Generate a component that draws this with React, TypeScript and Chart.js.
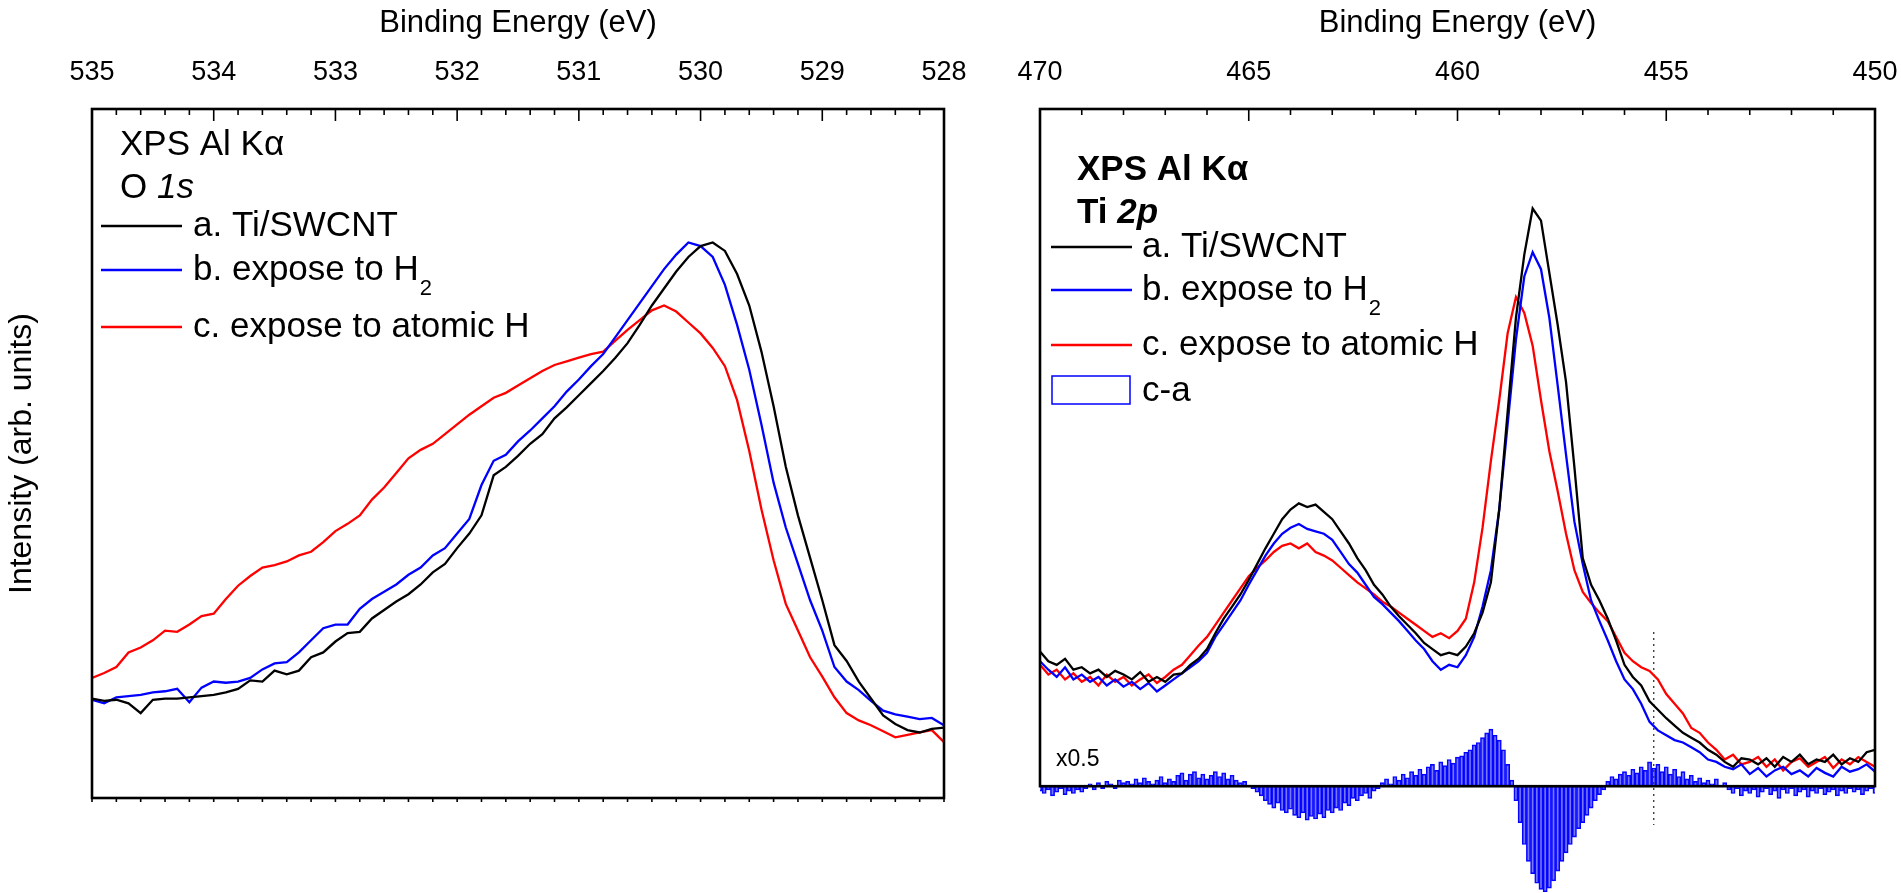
import React, { useEffect, useRef } from "react";
import { Chart, registerables } from "chart.js";

Chart.register(...registerables);

const FONT = '"Liberation Sans", Arial, Helvetica, sans-serif';

// ---------- O 1s panel (535 -> 528 eV, 0.1 eV steps) ----------
const O1S_START = 535.0;
const O1S_STEP = 0.1;
const o1sTiSWCNT = [82, 80, 81, 78, 70, 81, 82, 82, 83, 84, 85, 87, 90, 97, 96, 105, 102, 105, 116, 120, 129, 136, 137, 148, 155, 162, 168, 176, 186, 193, 206, 218, 233, 266, 273, 282, 292, 300, 313, 322, 332, 342, 352, 363, 375, 390, 406, 420, 434, 446, 455, 458, 451, 432, 406, 368, 323, 273, 233, 198, 163, 126, 113, 96, 82, 68, 61, 56, 54, 57, 58];
const o1sH2 = [81, 78, 83, 84, 85, 87, 88, 90, 79, 91, 96, 95, 96, 99, 106, 111, 112, 120, 130, 140, 143, 143, 156, 164, 170, 176, 184, 190, 200, 206, 218, 230, 258, 278, 283, 294, 303, 313, 323, 335, 345, 356, 366, 380, 394, 408, 422, 436, 448, 458, 455, 446, 423, 390, 353, 308, 260, 223, 193, 163, 138, 108, 96, 89, 80, 72, 69, 67, 65, 66, 60];
const o1sAtomicH = [99, 103, 108, 120, 124, 130, 138, 137, 143, 150, 152, 164, 175, 183, 190, 192, 195, 200, 203, 211, 220, 226, 233, 246, 256, 268, 280, 287, 292, 300, 308, 316, 323, 330, 334, 340, 346, 352, 357, 360, 363, 366, 368, 377, 386, 394, 402, 406, 401, 392, 383, 371, 356, 328, 286, 238, 196, 160, 138, 116, 100, 83, 70, 64, 60, 55, 50, 52, 54, 56, 46];
const O1S_AXIS = { min: 528, max: 535, step: 1, minor: 0.2 };
const O1S_Y = { min: 0, max: 568 };

// ---------- Ti 2p panel (470 -> 450 eV, 0.2 eV steps) ----------
const TI_START = 470.0;
const TI_STEP = 0.2;
const tiTiSWCNT = [111, 103, 100, 105, 96, 98, 93, 96, 90, 95, 92, 88, 94, 86, 90, 86, 92, 93, 100, 105, 113, 126, 138, 148, 158, 170, 183, 196, 208, 220, 228, 233, 230, 232, 226, 220, 210, 200, 188, 178, 166, 158, 148, 140, 133, 126, 118, 113, 108, 110, 108, 115, 126, 143, 168, 228, 308, 386, 438, 476, 466, 423, 380, 333, 263, 188, 166, 153, 138, 120, 100, 90, 83, 70, 63, 56, 50, 44, 40, 36, 30, 26, 20, 16, 23, 22, 18, 23, 16, 24, 20, 26, 18, 22, 20, 26, 18, 23, 20, 28, 30];
const tiH2 = [103, 96, 90, 98, 88, 92, 86, 90, 83, 88, 82, 86, 80, 85, 78, 83, 88, 93, 98, 103, 110, 123, 133, 143, 153, 166, 178, 190, 200, 208, 213, 216, 212, 210, 208, 203, 193, 183, 176, 166, 156, 150, 143, 136, 128, 120, 113, 103, 96, 100, 98, 108, 123, 148, 178, 228, 298, 368, 420, 440, 426, 386, 330, 273, 218, 183, 153, 136, 120, 103, 88, 80, 68, 53, 46, 42, 38, 36, 32, 28, 22, 20, 16, 14, 18, 10, 15, 8, 13, 16, 10, 13, 8, 15, 11, 8, 16, 12, 14, 18, 12];
const tiAtomicH = [100, 92, 96, 88, 93, 86, 90, 83, 92, 86, 90, 83, 88, 92, 85, 90, 96, 100, 108, 116, 123, 133, 143, 153, 163, 173, 180, 186, 193, 198, 200, 196, 200, 193, 190, 186, 180, 174, 168, 163, 158, 152, 148, 143, 138, 133, 128, 123, 126, 122, 128, 138, 168, 213, 268, 318, 373, 403, 390, 363, 318, 276, 243, 208, 178, 160, 151, 143, 136, 123, 110, 103, 98, 95, 88, 76, 68, 60, 48, 44, 36, 30, 22, 26, 18, 20, 24, 16, 22, 13, 20, 23, 16, 20, 24, 15, 22, 18, 24, 20, 16];

// difference spectrum c-a (x0.5), 0.1 eV steps
const DIFF_START = 470.0;
const DIFF_STEP = 0.1;
const diffCminusA = [
  -4, -6, -3, -8, -5, -2, -7, -4, -6, -3, -5,
  -2, 2, -3, 3, -2, 4, 2, -2, 5, 3,
  4, 2, 6, 3, 7, 4, 2, 5, 8, 3,
  6, 4, 9, 11, 5, 10, 12, 7, 10, 6,
  9, 12, 8, 11, 6, 9, 5, 3, 4, 1,
  -2, -5, -8, -12, -15, -18, -14, -20, -22, -19,
  -24, -26, -22, -28, -25, -27, -23, -26, -20, -22,
  -18, -20, -14, -16, -10, -12, -8, -6, -10, -4,
  -2, 3, 6, 2, 8, 5, 10, 7, 12, 9,
  14, 10, 16, 18, 13, 20, 17, 22, 19, 24,
  25, 28, 30, 34, 36, 40, 44, 47, 42, 38,
  30, 18, 5, -12, -30, -48, -62, -72, -80, -85,
  -87, -84, -78, -70, -62, -55, -48, -42, -35, -30,
  -24, -18, -12, -7, -3, 4, 8, 6, 10, 12,
  9, 14, 11, 16, 13, 20, 15, 18, 12, 16,
  10, 14, 8, 12, 6, 9, 4, 7, 3, 5,
  2, 6, 1, 3, -3, -6, -2, -8, -4, -6,
  -3, -9, -5, -2, -7, -4, -10, -3, -6, -2,
  -8, -5, -3, -9, -4, -6, -2, -7, -5, -3,
  -8, -4, -6, -2, -5, -3, -7, -4, -2, -6,
];
const MARKER_X = 455.3;
const MARKER_Y = [127, -32];
const TI_AXIS = { min: 450, max: 470, step: 5, minor: 1 };
const TI_Y = { min: -88, max: 558 };

const SERIES_LABELS = ["a. Ti/SWCNT", "b. expose to H\u2082", "c. expose to atomic H"];
const DIFF_LABEL = "c-a";
const SERIES_COLORS = ["#000000", "#0000ff", "#ff0000"];
const X_TITLE = "Binding Energy (eV)";
const Y_TITLE = "Intensity (arb. units)";

function energyGrid(start: number, step: number, n: number): number[] {
  return Array.from({ length: n }, (_, i) => Math.round((start - i * step) * 100) / 100);
}
function toPoints(xs: number[], ys: number[]) {
  return ys.map((y, i) => ({ x: xs[i], y }));
}

function drawLabel(ctx: CanvasRenderingContext2D, text: string, x: number, y: number, size: number, bold = false) {
  const base = `${bold ? "bold " : ""}${size}px ${FONT}`;
  const sub = `${bold ? "bold " : ""}${Math.round(size * 0.62)}px ${FONT}`;
  const parts = text.split("\u2082");
  let cx = x;
  ctx.textBaseline = "middle";
  ctx.textAlign = "left";
  parts.forEach((p, i) => {
    ctx.font = base;
    ctx.fillText(p, cx, y);
    cx += ctx.measureText(p).width;
    if (i < parts.length - 1) {
      ctx.font = sub;
      ctx.fillText("2", cx + 1, y + size * 0.55);
      cx += ctx.measureText("2").width + 1;
    }
  });
}

function drawRuns(ctx: CanvasRenderingContext2D, runs: { t: string; f: string }[], x: number, y: number) {
  let cx = x;
  ctx.textBaseline = "middle";
  ctx.textAlign = "left";
  for (const r of runs) {
    ctx.font = r.f;
    ctx.fillText(r.t, cx, y);
    cx += ctx.measureText(r.t).width;
  }
}

function makeFramePlugin(cfg: {
  major: number;
  minor: number;
  zeroBottom: boolean;
  bottomTicks: boolean;
  annotate: (ctx: CanvasRenderingContext2D) => void;
}) {
  return {
    id: "frameAndNotes",
    afterDatasetsDraw(chart: any) {
      const { ctx, chartArea } = chart;
      const xs = chart.scales.x;
      const ys = chart.scales.y;
      const top = chartArea.top;
      const bottom = cfg.zeroBottom ? ys.getPixelForValue(0) : chartArea.bottom;
      ctx.save();
      ctx.strokeStyle = "#000";
      ctx.lineWidth = 1.6;
      const n = Math.round((xs.max - xs.min) / cfg.minor);
      for (let k = 0; k <= n; k++) {
        const v = xs.min + k * cfg.minor;
        const px = xs.getPixelForValue(v);
        const r = v / cfg.major;
        const isMajor = Math.abs(r - Math.round(r)) < 1e-6;
        ctx.beginPath();
        ctx.moveTo(px, top);
        ctx.lineTo(px, top + (isMajor ? 12 : 6));
        ctx.stroke();
        if (cfg.bottomTicks) {
          ctx.beginPath();
          ctx.moveTo(px, bottom);
          ctx.lineTo(px, bottom + 4);
          ctx.stroke();
        }
      }
      ctx.lineWidth = 2.6;
      ctx.strokeRect(chartArea.left, top, chartArea.right - chartArea.left, bottom - top);
      ctx.fillStyle = "#000";
      cfg.annotate(ctx);
      ctx.restore();
    },
  };
}

function legendLine(ctx: CanvasRenderingContext2D, x0: number, x1: number, y: number, color: string) {
  ctx.strokeStyle = color;
  ctx.lineWidth = 2.4;
  ctx.beginPath();
  ctx.moveTo(x0, y);
  ctx.lineTo(x1, y);
  ctx.stroke();
}

const TOP_AXIS_HEIGHT = 109;

function xAxisOptions(axis: { min: number; max: number; step: number }) {
  return {
    type: "linear" as const,
    position: "top" as const,
    reverse: true,
    offset: false,
    min: axis.min,
    max: axis.max,
    afterFit: (s: any) => {
      s.height = TOP_AXIS_HEIGHT;
      s.paddingLeft = 0;
      s.paddingRight = 0;
    },
    ticks: {
      stepSize: axis.step,
      color: "#000",
      font: { family: FONT, size: 27 },
      padding: 20,
      maxRotation: 0,
      autoSkip: false,
    },
    grid: { display: false, drawTicks: false },
    border: { display: false },
    title: {
      display: true,
      text: X_TITLE,
      color: "#000",
      font: { family: FONT, size: 31 },
      padding: { top: 5, bottom: 0 },
    },
  };
}

export default function App() {
  const leftRef = useRef<HTMLCanvasElement>(null);
  const rightRef = useRef<HTMLCanvasElement>(null);

  useEffect(() => {
    document.body.style.margin = "0";
    Chart.defaults.font.family = FONT;

    const eO = energyGrid(O1S_START, O1S_STEP, o1sTiSWCNT.length);
    const eTi = energyGrid(TI_START, TI_STEP, tiTiSWCNT.length);
    const eDiff = energyGrid(DIFF_START, DIFF_STEP, diffCminusA.length);

    const lineDs = (label: string, color: string, data: any[]) => ({
      type: "line" as const,
      label,
      data,
      borderColor: color,
      backgroundColor: color,
      borderWidth: 2.3,
      pointRadius: 0,
      tension: 0,
      fill: false,
      order: 1,
    });

    const left = new Chart(leftRef.current!, {
      type: "line",
      data: {
        datasets: [
          lineDs(SERIES_LABELS[0], SERIES_COLORS[0], toPoints(eO, o1sTiSWCNT)),
          lineDs(SERIES_LABELS[1], SERIES_COLORS[1], toPoints(eO, o1sH2)),
          lineDs(SERIES_LABELS[2], SERIES_COLORS[2], toPoints(eO, o1sAtomicH)),
        ],
      },
      options: {
        responsive: false,
        maintainAspectRatio: false,
        animation: false,
        layout: { padding: { left: 0, right: 56, top: 0, bottom: 95 } },
        plugins: { legend: { display: false }, tooltip: { enabled: false } },
        scales: {
          x: xAxisOptions(O1S_AXIS),
          y: {
            min: O1S_Y.min,
            max: O1S_Y.max,
            afterFit: (s: any) => {
              s.width = 92;
              s.paddingTop = 0;
              s.paddingBottom = 0;
            },
            ticks: { display: false },
            grid: { display: false, drawTicks: false },
            border: { display: false },
            title: {
              display: true,
              text: Y_TITLE,
              color: "#000",
              font: { family: FONT, size: 32 },
              padding: { top: 3, bottom: 0 },
            },
          },
        },
      },
      plugins: [
        makeFramePlugin({
          major: O1S_AXIS.step,
          minor: O1S_AXIS.minor,
          zeroBottom: false,
          bottomTicks: true,
          annotate: (ctx) => {
            drawRuns(ctx, [{ t: "XPS Al K\u03b1", f: `35px ${FONT}` }], 120, 145);
            drawRuns(ctx, [
              { t: "O ", f: `35px ${FONT}` },
              { t: "1s", f: `italic 35px ${FONT}` },
            ], 120, 188);
            const rows = [226, 270, 327];
            rows.forEach((y, i) => {
              legendLine(ctx, 101, 182, y, SERIES_COLORS[i]);
              ctx.fillStyle = "#000";
              drawLabel(ctx, SERIES_LABELS[i], 193, y, 35);
            });
          },
        }),
      ],
    } as any);

    const right = new Chart(rightRef.current!, {
      type: "line",
      data: {
        datasets: [
          lineDs(SERIES_LABELS[0], SERIES_COLORS[0], toPoints(eTi, tiTiSWCNT)),
          lineDs(SERIES_LABELS[1], SERIES_COLORS[1], toPoints(eTi, tiH2)),
          lineDs(SERIES_LABELS[2], SERIES_COLORS[2], toPoints(eTi, tiAtomicH)),
          {
            type: "line" as const,
            label: "marker",
            data: MARKER_Y.map((y) => ({ x: MARKER_X, y })),
            borderColor: "#333",
            borderWidth: 1.3,
            borderDash: [2, 4],
            pointRadius: 0,
            fill: false,
            order: 2,
          },
          {
            type: "bar" as const,
            label: DIFF_LABEL,
            data: toPoints(eDiff, diffCminusA),
            backgroundColor: "rgba(30,30,255,0.6)",
            borderColor: "#0000ff",
            borderWidth: 1,
            borderSkipped: false,
            barPercentage: 1,
            categoryPercentage: 1,
            order: 5,
          },
        ],
      },
      options: {
        responsive: false,
        maintainAspectRatio: false,
        animation: false,
        layout: { padding: { left: 80, right: 26, top: 0, bottom: 0 } },
        plugins: { legend: { display: false }, tooltip: { enabled: false } },
        scales: {
          x: xAxisOptions(TI_AXIS),
          y: {
            display: false,
            min: TI_Y.min,
            max: TI_Y.max,
          },
        },
      },
      plugins: [
        makeFramePlugin({
          major: TI_AXIS.step,
          minor: TI_AXIS.minor,
          zeroBottom: true,
          bottomTicks: false,
          annotate: (ctx) => {
            drawRuns(ctx, [{ t: "XPS Al K\u03b1", f: `bold 35px ${FONT}` }], 117, 170);
            drawRuns(ctx, [
              { t: "Ti ", f: `bold 35px ${FONT}` },
              { t: "2p", f: `italic bold 35px ${FONT}` },
            ], 117, 213);
            const rows = [247, 290, 345];
            rows.forEach((y, i) => {
              legendLine(ctx, 91, 172, y, SERIES_COLORS[i]);
              ctx.fillStyle = "#000";
              drawLabel(ctx, SERIES_LABELS[i], 182, y, 35);
            });
            ctx.strokeStyle = "#0000ff";
            ctx.lineWidth = 1.5;
            ctx.strokeRect(92, 376, 78, 28);
            ctx.fillStyle = "#000";
            drawLabel(ctx, DIFF_LABEL, 182, 391, 35);
            drawRuns(ctx, [{ t: "x0.5", f: `23px ${FONT}` }], 96, 760);
          },
        }),
      ],
    } as any);

    return () => {
      left.destroy();
      right.destroy();
    };
  }, []);

  return (
    <div style={{ position: "relative", width: 1901, height: 893, overflow: "hidden", background: "#fff" }}>
      <canvas ref={leftRef} width={1000} height={893} style={{ position: "absolute", left: 0, top: 0 }} />
      <canvas ref={rightRef} width={941} height={893} style={{ position: "absolute", left: 960, top: 0 }} />
    </div>
  );
}
